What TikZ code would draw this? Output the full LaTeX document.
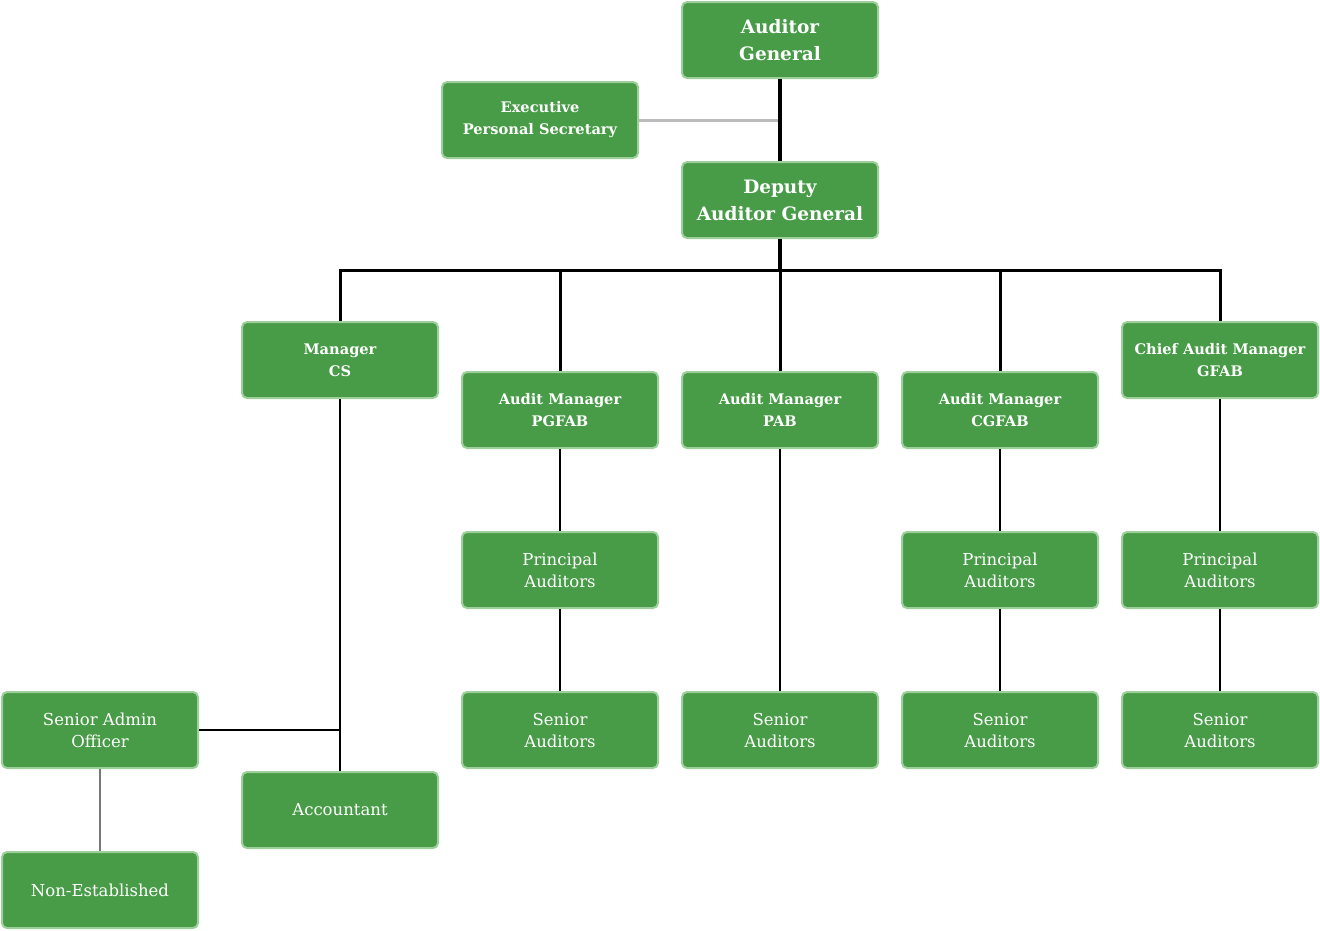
\documentclass[tikz,border=0pt]{standalone}
\usepackage{fontspec}
\setmainfont{DejaVu Serif}
\definecolor{boxfill}{HTML}{489C47}
\definecolor{boxline}{HTML}{9CCF9A}
\definecolor{lightgrey}{HTML}{BBBBBB}
\definecolor{midgrey}{HTML}{777777}
\tikzset{
  box/.style={draw=boxline, line width=2pt, fill=boxfill, rounded corners=5pt,
    minimum width=196pt, minimum height=76pt, inner sep=0pt, align=center, text=white},
  topbox/.style={box, font=\fontsize{18.5}{27}\selectfont\bfseries},
  midbox/.style={box, font=\fontsize{14.6}{22}\selectfont\bfseries},
  lowbox/.style={box, font=\fontsize{16.5}{22}\selectfont},
  stem/.style={line width=4pt, black},
  busline/.style={line width=3pt, black},
  link/.style={line width=2pt, black},
}
\begin{document}
\begin{tikzpicture}[x=1pt,y=-1pt]
\useasboundingbox (0,0) rectangle (1320,930);
% nodes
\node[topbox] (ag) at (780,40) {Auditor\\General};
\node[midbox] (eps) at (540,120) {Executive\\Personal Secretary};
\node[topbox] (dag) at (780,200) {Deputy\\Auditor General};
\node[midbox] (mcs) at (340,360) {Manager\\CS};
\node[midbox] (pgfab) at (560,410) {Audit Manager\\PGFAB};
\node[midbox] (pab) at (780,410) {Audit Manager\\PAB};
\node[midbox] (cgfab) at (1000,410) {Audit Manager\\CGFAB};
\node[midbox] (gfab) at (1220,360) {Chief Audit Manager\\GFAB};
\node[lowbox] (pa1) at (560,570) {Principal\\Auditors};
\node[lowbox] (pa2) at (1000,570) {Principal\\Auditors};
\node[lowbox] (pa3) at (1220,570) {Principal\\Auditors};
\node[lowbox] (sa1) at (560,730) {Senior\\Auditors};
\node[lowbox] (sa2) at (780,730) {Senior\\Auditors};
\node[lowbox] (sa3) at (1000,730) {Senior\\Auditors};
\node[lowbox] (sa4) at (1220,730) {Senior\\Auditors};
\node[lowbox] (sao) at (100,730) {Senior Admin\\Officer};
\node[lowbox] (acc) at (340,810) {Accountant};
\node[lowbox] (nes) at (100,890) {Non-Established};
\coordinate (bus) at (780,270);
% connectors
\draw[line width=3pt, lightgrey] (eps.east) -- (eps.east -| ag.south);
\draw[stem] (ag.south) -- (dag.north);
\draw[stem] (dag.south) -- (bus);
\draw[busline] (mcs.north) |- (bus) -| (gfab.north);
\draw[busline] (pgfab.north) -- (pgfab.north |- bus);
\draw[busline] (pab.north) -- (bus);
\draw[busline] (cgfab.north) -- (cgfab.north |- bus);
\draw[link] (pgfab.south) -- (pa1.north);
\draw[link] (pa1.south) -- (sa1.north);
\draw[link] (pab.south) -- (sa2.north);
\draw[link] (cgfab.south) -- (pa2.north);
\draw[link] (pa2.south) -- (sa3.north);
\draw[link] (gfab.south) -- (pa3.north);
\draw[link] (pa3.south) -- (sa4.north);
\draw[link] (mcs.south) -- (acc.north);
\draw[link] (sao.east) -- (sao.east -| mcs.south);
\draw[line width=2pt, midgrey] (sao.south) -- (nes.north);
\end{tikzpicture}
\end{document}
